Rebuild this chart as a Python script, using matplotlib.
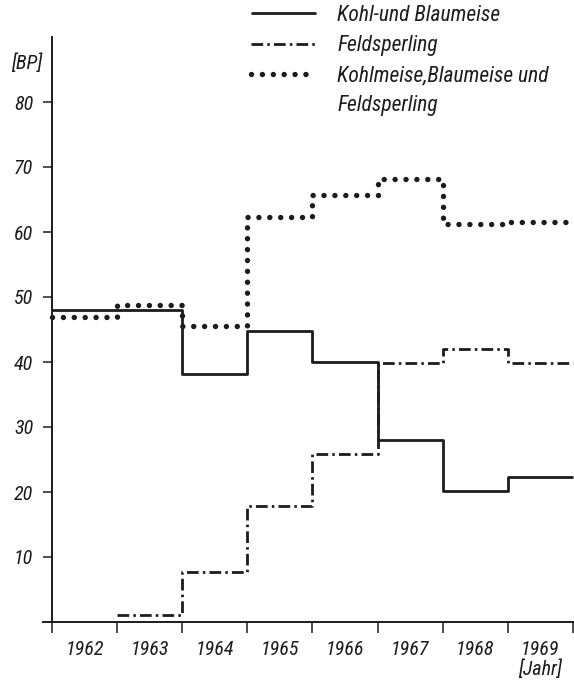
import matplotlib
matplotlib.use('Agg')
import matplotlib.pyplot as plt
from matplotlib.lines import Line2D
from matplotlib import font_manager
import numpy as np

# ---- data ----
years = ['1962', '1963', '1964', '1965', '1966', '1967', '1968', '1969']
kohl_blau = [48, 48, 38.2, 44.8, 40, 28, 20.2, 22.3]
feld_years = ['1963', '1964', '1965', '1966', '1967', '1968', '1969']
feldsperling = [1.1, 7.7, 17.8, 25.8, 39.8, 42, 39.8]
gesamt = [46.9, 48.8, 45.5, 62.3, 65.7, 68.1, 61.2, 61.5]
yticks = [10, 20, 30, 40, 50, 60, 70, 80]
labels = ['Kohl-und Blaumeise', 'Feldsperling', 'Kohlmeise,Blaumeise und', 'Feldsperling']

candidates = ['Liberation Sans Narrow', 'Roboto Condensed', 'DejaVu Sans Condensed',
              'Open Sans Condensed', 'Roboto', 'DejaVu Sans']
available = {f.name for f in font_manager.fontManager.ttflist}
FONT = [c for c in candidates if c in available] or ['DejaVu Sans']
plt.rcParams['font.family'] = FONT
plt.rcParams['font.style'] = 'italic'
narrow = FONT[0] in ('Liberation Sans Narrow', 'Roboto Condensed', 'DejaVu Sans Condensed')
FS = 14.5 if narrow else 13.5
FSL = 15.5 if narrow else 13.5
plt.rcParams['font.size'] = FS
INK = '#1c1c1c'

W, H = 574, 681
fig = plt.figure(figsize=(W / 100, H / 100), dpi=100)
fig.patch.set_facecolor('white')

px_year = 65.1
x0_px, y0_px, top_px = 52, 622, 37
left_px = 43
ax = fig.add_axes([left_px / W, 1 - y0_px / H, (W - left_px) / W, (y0_px - top_px) / H])
ax.set_xlim((left_px - x0_px) / px_year, (W - x0_px) / px_year)
ax.set_ylim(0, 90)
ax.patch.set_alpha(0)

def steps(vals, start):
    idx = [years.index(y) for y in start]
    edges = np.arange(idx[0], idx[0] + len(vals) + 1)
    yy = list(vals) + [vals[-1]]
    return edges, yy

e, v = steps(kohl_blau, years)
l1, = ax.step(e, v, where='post', color=INK, lw=2.0, solid_capstyle='butt')
e, v = steps(feldsperling, feld_years)
l2, = ax.step(e, v, where='post', color=INK, lw=2.0,
              dashes=(4.2, 1.5, 0.9, 1.5), dash_capstyle='butt')
e, v = steps(gesamt, years)
l3, = ax.step(e, v, where='post', color=INK, lw=3.9,
              dashes=(0.01, 2.0), dash_capstyle='round')
l4 = Line2D([], [], color='none')

# axes styling
for s in ['top', 'right']:
    ax.spines[s].set_visible(False)
ax.spines['left'].set_position(('data', 0))
for s in ['left', 'bottom']:
    ax.spines[s].set_linewidth(1.4)
    ax.spines[s].set_color(INK)

ax.set_yticks(yticks)
ax.set_yticklabels([str(t) for t in yticks])
ax.tick_params(axis='y', direction='out', length=6.5, width=1.1, pad=7,
               colors=INK, labelsize=FS)

ax.set_xticks(np.arange(0, len(years) + 1))
ax.set_xticklabels([])
ax.tick_params(axis='x', which='major', direction='out', length=8, width=1.1, colors=INK)
ax.set_xticks(np.arange(len(years)) + 0.5, minor=True)
xl = list(years)
xl[-1] = xl[-1] + '\n[Jahr]'
ax.set_xticklabels(xl, minor=True, linespacing=1.05, va='top')
ax.tick_params(axis='x', which='minor', length=0, pad=13, colors=INK, labelsize=FS)

ax.text(-0.15, 86, '[BP]', ha='right', va='center', fontsize=FS, color=INK)

leg = fig.legend([l1, l2, l3, l4], labels, loc='upper left',
                 bbox_to_anchor=(251 / W, 1 - 5 / H), frameon=False,
                 borderpad=0, borderaxespad=0, handlelength=3.0,
                 handletextpad=1.0, labelspacing=0.42, fontsize=FSL)
for t in leg.get_texts():
    t.set_color(INK)

fig.savefig('out.png', dpi=100, facecolor='white')
